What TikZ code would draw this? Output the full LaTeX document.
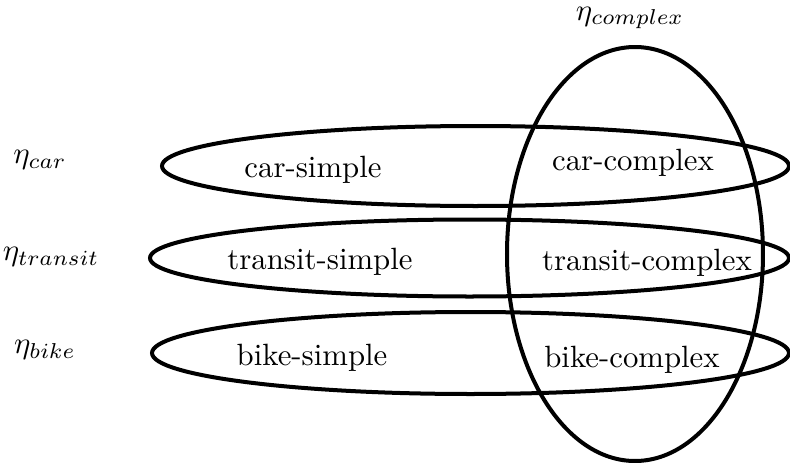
\documentclass[tikz,border=0pt]{standalone}
\usepackage{tikz}
\usepackage{amsmath}

\begin{document}
\begin{tikzpicture}[x=1.142cm, y=1.142cm, line width=1.3pt]
    \useasboundingbox (0,0) rectangle (7.9,4.62);

    % Draw mode sets (horizontal)
    \draw (4.755,2.96) ellipse (3.135 and 0.40);
    \draw (4.695,2.04) ellipse (3.195 and 0.385);
    \draw (4.705,1.09) ellipse (3.185 and 0.41);

    % Draw complex set (vertical)
    \draw (6.35,2.08) ellipse (1.28 and 2.07);

    % Set labels
    \node (etacomplex) at (6.30, 4.44) {$\eta_{complex}$};
    \node (etacar) at (0.40, 3.02) {$\eta_{car}$};
    \node (etatransit) at (0.51, 2.05) {$\eta_{transit}$};
    \node (etabike) at (0.45, 1.12) {$\eta_{bike}$};

    % Add cell labels
    \node (carsimple) at (3.13, 2.92) {car-simple};
    \node (carcomplex) at (6.33, 2.99) {car-complex};
    \node (transitsimple) at (3.20, 2.00) {transit-simple};
    \node (transitcomplex) at (6.47, 1.99) {transit-complex};
    \node (bikesimple) at (3.12, 1.04) {bike-simple};
    \node (bikecomplex) at (6.32, 1.02) {bike-complex};
\end{tikzpicture}
\end{document}
